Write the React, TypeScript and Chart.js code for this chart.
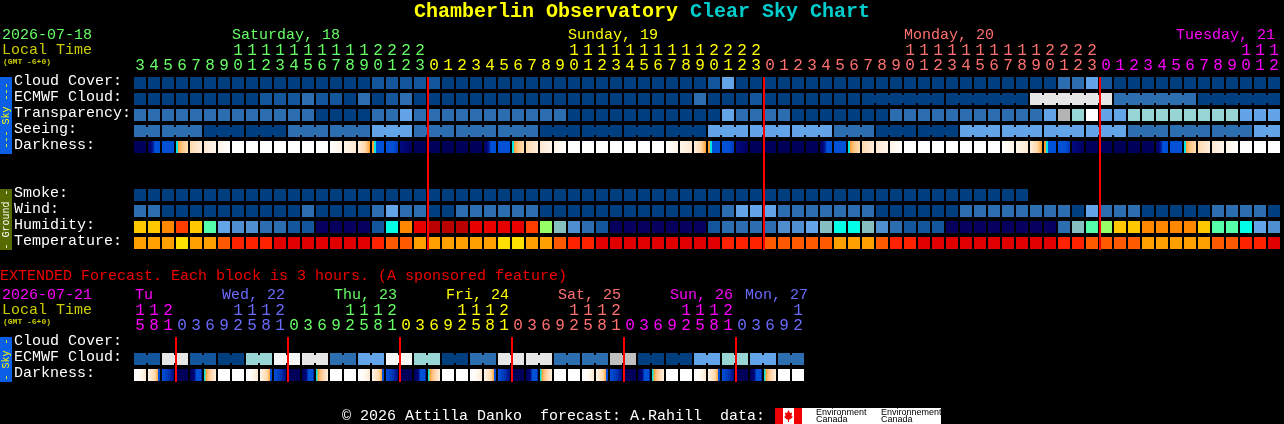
import React, { useEffect, useRef } from "react";
import { Chart, registerables } from "chart.js";

Chart.register(...registerables);

const W = 1284;
const H = 424;
const FONT = "'Liberation Mono', monospace";

// ---- Palettes ----
const SKY = ["#003F7F", "#13569B", "#2C6EB0", "#4F93D6", "#63A4E8", "#98D5D5", "#E6E6E6", "#F6F6F6", "#C0C0C0", "#B4B4B4", "#FFFFFF"];
const HUM = ["#FFC800", "#FF8800", "#FF3C00", "#55FFAA", "#63A4E8", "#4F8FD0", "#2C6EB0", "#13569B", "#08005E", "#00FFE6", "#E60000", "#BB0000", "#99FF66", "#85BFBF"];
const TEMP = ["#FFA000", "#FFE000", "#FF5A00", "#FF2200", "#E00000"];

// ---- Main forecast rows: one value per hour ----
const CLOUD_COVER = [0,0,0,0,0,0,0,0,0,0,0,0,0,0,0,0,0,1,1,1,1,1,0,0,0,0,0,0,0,0,0,0,0,0,0,0,0,0,0,0,0,1,4,0,0,0,0,0,0,0,0,0,0,0,0,0,0,0,0,0,0,0,0,0,0,0,2,2,4,1,0,0,0,0,0,0,0,0,0,0,0,0];
const ECMWF_CLOUD = [0,0,0,0,0,0,0,0,0,1,1,1,2,1,1,0,2,0,1,2,0,0,0,0,0,0,0,0,0,0,0,0,0,0,0,0,0,0,0,0,2,0,0,0,1,0,0,0,0,0,0,0,0,0,0,0,0,0,0,0,0,0,0,0,6,6,6,6,6,6,2,2,2,2,2,2,0,0,0,0,0,0];
const TRANSPARENCY = [2,2,2,2,2,2,2,2,2,2,2,2,2,0,0,0,0,2,2,4,2,2,2,2,2,2,2,2,2,2,2,0,0,0,0,0,0,0,0,0,0,0,4,2,2,2,2,0,0,0,0,0,0,0,2,2,2,2,2,2,2,2,2,2,2,4,9,5,10,4,4,5,5,5,5,5,5,5,5,4,4,4];
const SEEING = [2,2,2,2,2,0,0,0,0,0,0,2,2,2,2,2,2,4,4,4,2,2,2,2,2,2,2,2,2,0,0,0,0,0,0,0,0,0,0,0,0,4,4,4,4,4,4,4,4,4,2,2,2,0,0,0,0,0,0,4,4,4,4,4,4,4,4,4,4,4,4,2,2,2,2,2,2,2,2,2,4,4];
const SEEING_BLOCKS = [2,3,3,3,3,3,3,3,3,3,3,3,3,3,3,3,3,3,3,3,3,3,3,3,3,3,3,2];
const ECMWF_BLOCKS = [1,1,1,1,1,1,1,1,1,1,1,1,1,1,1,1,1,1,1,1,1,1,1,1,1,1,1,1,1,1,1,1,1,1,1,1,1,1,1,1,1,1,1,1,1,1,1,1,1,1,1,1,6,6,6,6,6];
const SMOKE = [0,0,0,0,0,0,0,0,0,0,0,0,0,0,0,0,0,0,0,0,0,0,0,0,0,0,0,0,0,0,0,0,0,0,0,0,0,0,0,0,0,0,0,0,0,0,0,0,0,0,0,0,0,0,0,0,0,0,0,0,0,0,0,0];
const WIND = [2,2,0,0,0,0,0,0,0,0,0,0,2,0,0,0,0,2,4,2,2,0,0,2,2,2,2,2,2,0,0,0,0,0,0,0,0,0,0,0,0,0,2,4,4,4,2,2,2,2,2,2,2,0,0,0,0,0,0,2,2,2,2,2,2,2,2,0,4,2,2,2,0,0,0,0,0,2,2,2,2,0];
const HUMIDITY = [0,0,1,2,0,3,4,5,5,6,6,7,7,8,8,8,8,7,9,1,10,11,11,11,10,10,10,10,2,12,13,5,6,7,8,8,8,8,8,8,8,7,6,6,6,6,5,5,4,13,9,9,13,5,6,7,7,7,8,8,8,8,8,8,8,8,6,13,3,12,0,0,1,1,1,1,0,3,3,9,4,5];
const TEMPERATURE = [0,0,0,1,0,0,2,3,3,3,4,4,4,4,4,4,4,3,2,2,0,0,0,0,0,0,1,1,0,0,2,3,3,4,4,4,4,4,4,4,4,4,3,3,3,2,2,2,2,2,0,0,0,2,3,3,4,4,4,4,4,4,4,4,4,4,3,3,2,2,2,2,0,0,0,0,0,2,2,3,3,4];
const DARKNESS = ["N","U","B","D","P1","P2","P3","W","W","W","W","W","W","W","R3","R2","R1","E","F","G","N","N","N","N","N","U","B","D","P1","P2","P3","W","W","W","W","W","W","W","R3","R2","R1","E","F","G","N","N","N","N","N","U","B","D","P1","P2","P3","W","W","W","W","W","W","W","R3","R2","R1","E","F","G","N","N","N","N","N","U","B","D","P1","P2","P3","W","W","W"];

// ---- Extended rows: one value per 3 hours ----
const EXT_ECMWF = [1,1,6,6,1,1,0,0,5,5,7,7,6,6,2,2,4,4,7,7,5,5,0,0,2,2,6,6,6,6,2,2,2,2,8,8,0,0,0,0,4,4,5,5,4,4,2,2];
const EXT_BLOCKS = [2,2,2,2,2,2,2,2,2,2,2,2,2,2,2,2,2,2,2,2,2,2,2,2];
const EXT_DARKNESS = ["X1","Xr","Xe","Xn","Xu","Xd","W","W","X1","Xr","Xe","Xn","Xu","Xd","W","W","X1","Xr","Xe","Xn","Xu","Xd","W","W","X1","Xr","Xe","Xn","Xu","Xd","W","W","X1","Xr","Xe","Xn","Xu","Xd","W","W","X1","Xr","Xe","Xn","Xu","Xd","W","W"];

const DARK_STOPS: Record<string, [number, string][]> = {
  N: [[0, "#00005A"], [1, "#00005A"]],
  U: [[0, "#000060"], [0.3, "#000A80"], [0.5, "#0030B0"], [0.55, "#0050D8"], [1, "#0050D8"]],
  B: [[0, "#0050D8"], [1, "#0050D8"]],
  D: [[0, "#00E6E6"], [0.16, "#00E6E6"], [0.17, "#FFA030"], [0.5, "#FFC585"], [1, "#FFDDB5"]],
  P1: [[0, "#FFDAAE"], [1, "#FFEEDC"]],
  P2: [[0, "#FFE8D0"], [1, "#FFF6EC"]],
  P3: [[0, "#FFF4E8"], [1, "#FFFFFF"]],
  W: [[0, "#FFFFFF"], [1, "#FFFFFF"]],
  R3: [[0, "#FFFFFF"], [1, "#FFF4E8"]],
  R2: [[0, "#FFF6EC"], [1, "#FFE8D0"]],
  R1: [[0, "#FFEEDC"], [0.6, "#FFD8A8"], [1, "#FFA030"]],
  E: [[0, "#FFA030"], [0.16, "#FFA030"], [0.17, "#00E6E6"], [0.33, "#00E6E6"], [0.34, "#0050D8"], [1, "#0050D8"]],
  F: [[0, "#0050D8"], [0.6, "#0050D8"], [1, "#0038B8"]],
  G: [[0, "#000A80"], [1, "#000060"]],
  X1: [[0, "#FFFFFF"], [0.5, "#FFFBF6"], [1, "#FFE8D0"]],
  Xr: [[0, "#FFF6EC"], [0.6, "#FFD8A8"], [0.85, "#FFA030"], [0.86, "#0050D8"], [1, "#0050D8"]],
  Xe: [[0, "#0050D8"], [0.5, "#0038B8"], [1, "#000A80"]],
  Xn: [[0, "#00005A"], [1, "#00005A"]],
  Xu: [[0, "#00005A"], [0.4, "#000A80"], [0.5, "#0050D8"], [0.9, "#0050D8"], [1, "#000A80"]],
  Xd: [[0, "#00E6E6"], [0.12, "#00E6E6"], [0.13, "#FFA030"], [0.5, "#FFD0A0"], [1, "#FFF0E0"]],
};

// ---- Tick labels ----
const HOURS = [3,4,5,6,7,8,9,10,11,12,13,14,15,16,17,18,19,20,21,22,23,0,1,2,3,4,5,6,7,8,9,10,11,12,13,14,15,16,17,18,19,20,21,22,23,0,1,2,3,4,5,6,7,8,9,10,11,12,13,14,15,16,17,18,19,20,21,22,23,0,1,2,3,4,5,6,7,8,9,10,11,12];
const EXT_HOURS = [15,18,21,0,3,6,9,12,15,18,21,0,3,6,9,12,15,18,21,0,3,6,9,12,15,18,21,0,3,6,9,12,15,18,21,0,3,6,9,12,15,18,21,0,3,6,9,12];
const DAY_COLORS = ["#66FF66", "#FFFF00", "#FF7070", "#FF00FF"];
const EXT_DAY_COLORS = ["#FF00FF", "#6A6AFF", "#66FF66", "#FFFF00", "#FF7070", "#FF00FF", "#6A6AFF"];

const DAYS = ["Saturday, 18", "Sunday, 19", "Monday, 20", "Tuesday, 21"];
const EXT_DAYS = ["Tu", "Wed, 22", "Thu, 23", "Fri, 24", "Sat, 25", "Sun, 26", "Mon, 27"];
const SKY_LABELS = ["Cloud Cover:", "ECMWF Cloud:", "Transparency:", "Seeing:", "Darkness:"];
const GROUND_LABELS = ["Smoke:", "Wind:", "Humidity:", "Temperature:"];
const EXT_LABELS = ["Cloud Cover:", "ECMWF Cloud:", "Darkness:"];

// ---- Geometry helpers (columns and row slots) ----
const X_MIN = -10;
const X_MAX = W / 14 - 10;
const Y_MIN = -83 / 16;
const Y_MAX = (H - 83) / 16;
const yUnit = (px: number) => (px - 83) / 16;
const HALF = 6 / 16;
const SKY_SLOTS = [0, 1, 2, 3, 4];
const GROUND_SLOTS = [7, 8, 9, 10];
const EXT_SLOTS = [16.25, 17.25, 18.25];
const ALL_LABELS = [...SKY_LABELS, ...GROUND_LABELS, ...EXT_LABELS];
const ALL_SLOTS = [...SKY_SLOTS, ...GROUND_SLOTS, ...EXT_SLOTS];

function dayIndexes(hours: number[]) {
  let d = 0;
  return hours.map((h, i) => {
    if (i > 0 && h < hours[i - 1]) d++;
    return d;
  });
}
const MAIN_DAY = dayIndexes(HOURS);
const EXT_DAY = dayIndexes(EXT_HOURS);

function cellRow(values: number[], palette: string[], slot: number) {
  return {
    type: "bar" as const,
    grouped: false,
    barThickness: 12,
    inflateAmount: 0,
    borderWidth: 0,
    data: values.map((_, i) => ({ x: i, y: [slot - HALF, slot + HALF] })),
    backgroundColor: values.map((v) => palette[v]),
    order: 2,
  };
}

function joinRow(values: number[], palette: string[], slot: number, blocks: number[]) {
  const data: any[] = [];
  const colors: string[] = [];
  let start = 0;
  blocks.forEach((len) => {
    for (let k = 0; k < len - 1; k++) {
      data.push({ x: start + k + 0.5, y: [slot - 0.25, slot + 0.25] });
      colors.push(palette[values[start + k]]);
    }
    start += len;
  });
  return { type: "bar" as const, grouped: false, barThickness: 2, inflateAmount: 0, borderWidth: 0, data, backgroundColor: colors, order: 2 };
}

function darkRow(codes: string[], slot: number) {
  return {
    type: "bar" as const,
    grouped: false,
    barThickness: 12,
    inflateAmount: 0,
    borderWidth: 0,
    data: codes.map((code, i) => ({ x: i, y: [slot - HALF, slot + HALF], code })),
    backgroundColor: (c: any) => {
      const raw = c.raw;
      if (!raw || !raw.code) return "#000";
      const px = c.chart.scales.x.getPixelForValue(raw.x);
      if (!Number.isFinite(px)) return "#000";
      const g = c.chart.ctx.createLinearGradient(px - 6, 0, px + 6, 0);
      DARK_STOPS[raw.code].forEach(([o, col]) => g.addColorStop(o, col));
      return g;
    },
    order: 2,
  };
}

function midnightRow(hours: number[], y0: number, y1: number) {
  const data: any[] = [];
  hours.forEach((h, i) => {
    if (h === 0) data.push({ x: i - 3 / 7, y: [y0, y1] });
  });
  return { type: "bar" as const, grouped: false, barThickness: 2, inflateAmount: 0, borderWidth: 0, data, backgroundColor: "#FF0000", order: 0 };
}

const zeroFit = (scale: any) => {
  if (scale.axis === "x") scale.height = 0;
  else scale.width = 0;
  scale.paddingLeft = scale.paddingRight = scale.paddingTop = scale.paddingBottom = 0;
};

function hourAxis(hours: number[], dayIdx: number[], colors: string[], topPx: number) {
  return {
    type: "linear" as const,
    axis: "x",
    min: X_MIN,
    max: X_MAX,
    offset: false,
    position: { y: yUnit(topPx) },
    grid: { display: false, drawTicks: false, offset: false },
    border: { display: false },
    afterBuildTicks: (s: any) => {
      s.ticks = hours.map((_, i) => ({ value: i }));
    },
    afterFit: zeroFit,
    ticks: {
      autoSkip: false,
      maxRotation: 0,
      minRotation: 0,
      padding: 0,
      font: { family: FONT, size: 16, lineHeight: 15 / 16 },
      color: (c: any) => colors[dayIdx[c.index]],
      callback: (_: any, i: number) => {
        const h = hours[i];
        return [h >= 10 ? String(Math.floor(h / 10)) : " ", String(h % 10)];
      },
    },
  };
}

type T = { s: string; x: number; y: number; c: string; f?: string; align?: CanvasTextAlign };
const MONO15 = `15px ${FONT}`;
const DAY_X = [232, 568, 904, 1176];
const EXT_DAY_X = [135, 222, 334, 446, 558, 670, 745];

const TEXTS: T[] = [
  { s: "Chamberlin Observatory", x: 414, y: 12, c: "#FFFF00", f: `bold 20px ${FONT}` },
  { s: "Clear Sky Chart", x: 690, y: 12, c: "#00CCCC", f: `bold 20px ${FONT}` },
  { s: "2026-07-18", x: 2, y: 35, c: "#66FF66" },
  { s: "Local Time", x: 2, y: 50, c: "#CCCC00" },
  { s: "(GMT -6+0)", x: 3, y: 62, c: "#CCCC00", f: `bold 8px ${FONT}` },
  ...DAYS.map((s, i) => ({ s, x: DAY_X[i], y: 35, c: DAY_COLORS[i] })),
  { s: "EXTENDED Forecast. Each block is 3 hours. (A sponsored feature)", x: 0, y: 276, c: "#F00000" },
  { s: "2026-07-21", x: 2, y: 295, c: "#FF00FF" },
  { s: "Local Time", x: 2, y: 310, c: "#CCCC00" },
  { s: "(GMT -6+0)", x: 3, y: 322, c: "#CCCC00", f: `bold 8px ${FONT}` },
  ...EXT_DAYS.map((s, i) => ({ s, x: EXT_DAY_X[i], y: 295, c: EXT_DAY_COLORS[i] })),
  { s: "\u00A9 2026 Attilla Danko  forecast: A.Rahill  data:", x: 342, y: 416, c: "#FFFFFF" },
];

const TABS = [
  { s: "--- Sky ---", y0: 77, y1: 154, bg: "#0A5FE6", c: "#FFFF00" },
  { s: "- Ground -", y0: 189, y1: 250, bg: "#556B00", c: "#FFFFFF" },
  { s: "- Sky -", y0: 337, y1: 382, bg: "#0A5FE6", c: "#FFFF00" },
];

const decorPlugin = {
  id: "decor",
  beforeDraw(chart: any) {
    const ctx = chart.ctx;
    ctx.save();
    ctx.fillStyle = "#000";
    ctx.fillRect(0, 0, W, H);
    ctx.restore();
  },
  afterDraw(chart: any) {
    const ctx: CanvasRenderingContext2D = chart.ctx;
    ctx.save();
    ctx.textBaseline = "middle";
    TEXTS.forEach((t) => {
      ctx.font = t.f || MONO15;
      ctx.fillStyle = t.c;
      ctx.textAlign = t.align || "left";
      ctx.fillText(t.s, t.x, t.y);
    });
    TABS.forEach((t) => {
      ctx.fillStyle = t.bg;
      ctx.fillRect(0, t.y0, 12, t.y1 - t.y0);
      ctx.save();
      ctx.translate(6, (t.y0 + t.y1) / 2);
      ctx.rotate(-Math.PI / 2);
      ctx.font = `10px ${FONT}`;
      ctx.textAlign = "center";
      ctx.fillStyle = t.c;
      ctx.fillText(t.s, 0, 0);
      ctx.restore();
    });
    // data-source logo
    ctx.fillStyle = "#FFFFFF";
    ctx.fillRect(775, 408, 166, 16);
    ctx.fillStyle = "#F00000";
    ctx.fillRect(775, 408, 8, 16);
    ctx.fillRect(794, 408, 8, 16);
    ctx.beginPath();
    [[788.5,410],[790,413],[792,412.5],[791.5,416],[793,417],[790,419.5],[789,419.5],[789,422],[788,422],[788,419.5],[787,419.5],[784,417],[785.5,416],[785,412.5],[787,413]].forEach(([x, y], i) => (i ? ctx.lineTo(x, y) : ctx.moveTo(x, y)));
    ctx.closePath();
    ctx.fill();
    ctx.fillStyle = "#000";
    ctx.font = `9px 'Liberation Sans', sans-serif`;
    ctx.textAlign = "left";
    ctx.fillText("Environment", 816, 412.5);
    ctx.fillText("Canada", 816, 420);
    ctx.fillText("Environnement", 881, 412.5);
    ctx.fillText("Canada", 881, 420);
    ctx.restore();
  },
};

export default function App() {
  const ref = useRef<HTMLCanvasElement>(null);
  useEffect(() => {
    document.body.style.margin = "0";
    document.body.style.background = "#000";
    const datasets: any[] = [
      midnightRow(HOURS, yUnit(77), yUnit(250)),
      midnightRow(EXT_HOURS, yUnit(337), yUnit(382)),
      cellRow(CLOUD_COVER, SKY, 0),
      cellRow(ECMWF_CLOUD, SKY, 1),
      joinRow(ECMWF_CLOUD, SKY, 1, ECMWF_BLOCKS),
      cellRow(TRANSPARENCY, SKY, 2),
      cellRow(SEEING, SKY, 3),
      joinRow(SEEING, SKY, 3, SEEING_BLOCKS),
      darkRow(DARKNESS, 4),
      cellRow(SMOKE, SKY, 7),
      cellRow(WIND, SKY, 8),
      cellRow(HUMIDITY, HUM, 9),
      cellRow(TEMPERATURE, TEMP, 10),
      cellRow(EXT_ECMWF, SKY, 17.25),
      joinRow(EXT_ECMWF, SKY, 17.25, EXT_BLOCKS),
      darkRow(EXT_DARKNESS, 18.25),
    ];
    const chart = new Chart(ref.current as HTMLCanvasElement, {
      type: "bar",
      data: { datasets },
      plugins: [decorPlugin],
      options: {
        animation: false,
        responsive: false,
        devicePixelRatio: 1,
        layout: { padding: 0 },
        plugins: { legend: { display: false }, tooltip: { enabled: false }, title: { display: false } },
        scales: {
          x: hourAxis(HOURS, MAIN_DAY, DAY_COLORS, 43) as any,
          xExt: hourAxis(EXT_HOURS, EXT_DAY, EXT_DAY_COLORS, 303) as any,
          y: {
            type: "linear",
            reverse: true,
            min: Y_MIN,
            max: Y_MAX,
            position: "left",
            grid: { display: false, drawTicks: false },
            border: { display: false },
            afterBuildTicks: (s: any) => {
              s.ticks = ALL_SLOTS.map((v) => ({ value: v - 2 / 16 }));
            },
            afterFit: zeroFit,
            ticks: {
              autoSkip: false,
              mirror: true,
              padding: 14,
              color: "#FFFFFF",
              font: { family: FONT, size: 15 },
              callback: (_: any, i: number) => ALL_LABELS[i],
            },
          } as any,
        },
      },
    });
    return () => chart.destroy();
  }, []);
  return <canvas ref={ref} width={W} height={H} style={{ display: "block", width: W, height: H, background: "#000" }} />;
}
